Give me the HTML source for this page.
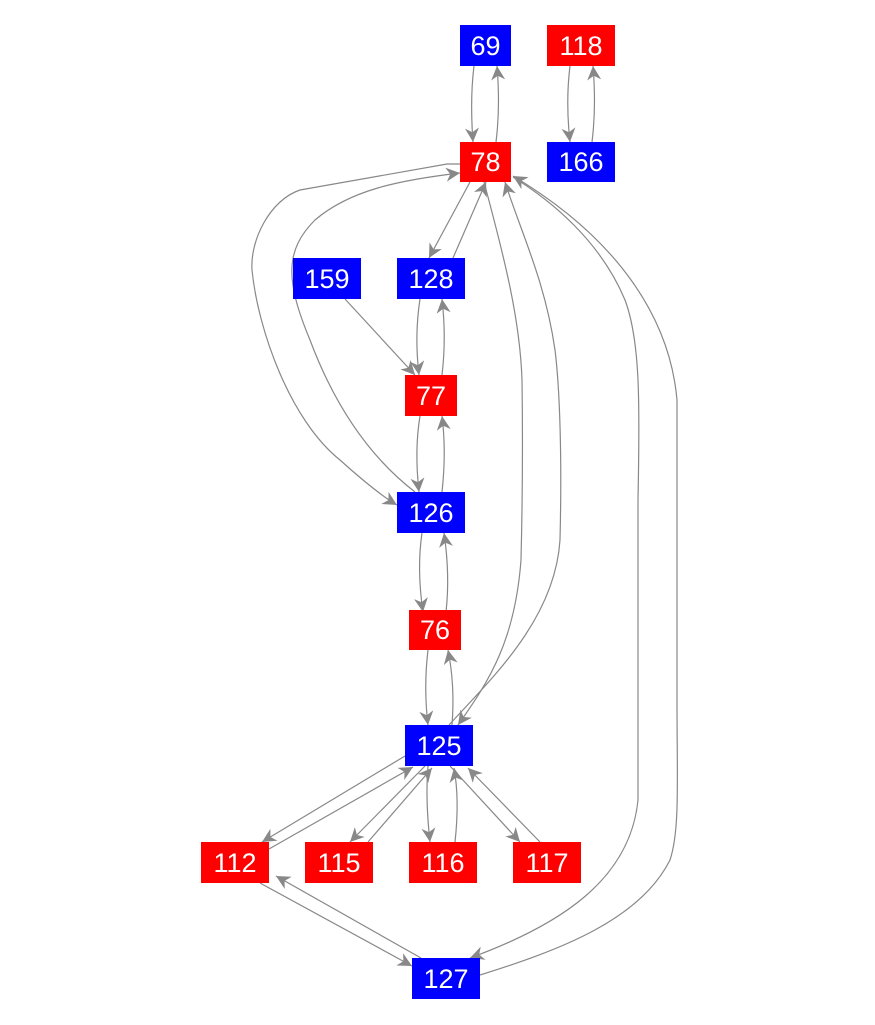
<!DOCTYPE html>
<html><head><meta charset="utf-8"><style>
body{margin:0;background:#fff}
svg{display:block}
text{font-family:"Liberation Sans",sans-serif;font-size:27px;fill:#fff;text-anchor:middle;dominant-baseline:central}
path{fill:none;stroke:#888;stroke-width:1.2}
</style></head><body>
<svg width="875" height="1025" viewBox="0 0 875 1025">
<defs><marker id="a" viewBox="0 0 10 10" refX="10" refY="5" markerWidth="14" markerHeight="14" markerUnits="userSpaceOnUse" orient="auto"><path d="M0,0 L10,5 L0,10 L3,5 Z" style="fill:#888;stroke:none"/></marker></defs>
<g marker-end="url(#a)">
<path d="M474,66 C471,90 471,115 473,142"/>
<path d="M496,142 C499,118 499,90 497,66"/>
<path d="M570,66 C567,90 567,115 570,142"/>
<path d="M592,142 C595,118 595,90 593,66"/>
<path d="M470,182 L429,258"/>
<path d="M453,258 L486,182"/>
<path d="M345,299 L415,375"/>
<path d="M420,299 C416,325 416,350 419,375"/>
<path d="M442,375 C445,350 445,325 442,299"/>
<path d="M420,416 C416,440 416,465 419,492"/>
<path d="M442,492 C445,465 445,440 442,416"/>
<path d="M422,533 C418,560 419,585 423,612"/>
<path d="M446,612 C449,585 448,560 444,533"/>
<path d="M428,650 C425,675 425,700 428,725"/>
<path d="M452,725 C454,700 453,675 448,650"/>
<path d="M460,164 L447,164 L300,190 C270,200 250,240 252,270 C258,330 290,420 340,460 C360,478 380,495 397,505"/>
<path d="M415,492 C380,465 340,420 310,340 C285,280 285,250 315,220 C350,190 400,180 460,173"/>
<path d="M484,182 C505,260 520,320 522,380 C523,450 522,520 521,560 C515,640 490,680 458,725"/>
<path d="M449,725 C490,680 555,620 560,540 C562,460 560,390 555,350 C545,280 520,230 505,182"/>
<path d="M513,177 C550,200 600,240 625,300 C640,340 640,400 638,500 C638,600 638,700 638,800 C630,880 560,925 470,958"/>
<path d="M480,975 C560,950 640,920 670,860 C680,830 677,780 677,700 C677,600 677,500 677,400 C670,320 620,240 513,176"/>
<path d="M405,756 L262,842"/>
<path d="M269,849 L413,767"/>
<path d="M425,766 L350,842"/>
<path d="M368,842 L432,768"/>
<path d="M428,766 C426,790 427,815 430,842"/>
<path d="M455,842 C458,815 458,790 454,768"/>
<path d="M450,766 L520,842"/>
<path d="M540,842 L468,768"/>
<path d="M260,883 L412,966"/>
<path d="M421,958 L276,876"/>
</g>
<rect x="460" y="25" width="51" height="41" fill="#00f"/><text x="485.5" y="46">69</text>
<rect x="547" y="25" width="68" height="41" fill="#f00"/><text x="581" y="46">118</text>
<rect x="460" y="142" width="51" height="40" fill="#f00"/><text x="485.5" y="162">78</text>
<rect x="547" y="142" width="68" height="40" fill="#00f"/><text x="581" y="162">166</text>
<rect x="293" y="258" width="68" height="41" fill="#00f"/><text x="327" y="279">159</text>
<rect x="397" y="258" width="68" height="41" fill="#00f"/><text x="431" y="279">128</text>
<rect x="405" y="375" width="52" height="41" fill="#f00"/><text x="431" y="396">77</text>
<rect x="397" y="492" width="68" height="41" fill="#00f"/><text x="431" y="513">126</text>
<rect x="409" y="610" width="52" height="40" fill="#f00"/><text x="435" y="630">76</text>
<rect x="405" y="725" width="68" height="41" fill="#00f"/><text x="439" y="746">125</text>
<rect x="201" y="842" width="68" height="41" fill="#f00"/><text x="235" y="863">112</text>
<rect x="305" y="842" width="68" height="41" fill="#f00"/><text x="339" y="863">115</text>
<rect x="409" y="842" width="68" height="41" fill="#f00"/><text x="443" y="863">116</text>
<rect x="513" y="842" width="68" height="41" fill="#f00"/><text x="547" y="863">117</text>
<rect x="412" y="958" width="68" height="41" fill="#00f"/><text x="446" y="979">127</text>
</svg>
</body></html>
